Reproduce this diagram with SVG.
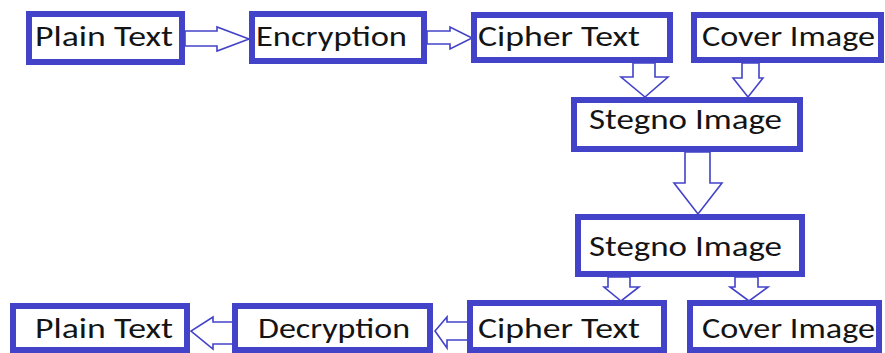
<svg xmlns="http://www.w3.org/2000/svg" width="885" height="353" viewBox="0 0 885 353">
  <style>
    .box { fill: #ffffff; stroke: #4343c9; stroke-width: 6; }
    .arrow { fill: #ffffff; stroke: #4343c9; stroke-width: 1.6; stroke-linejoin: miter; }
    .label { font-family: Carlito, "Open Sans", Lato, sans-serif; font-size: 28px; fill: #141414; }
  </style>
  <rect width="885" height="353" fill="#ffffff"/>

  <!-- block arrows -->
  <g id="connectors">
    <polygon class="arrow" points="185,31 217,31 217,27 249,39 217,51 217,46 185,46"/>
    <polygon class="arrow" points="427,31 450,31 450,27 472,38 450,49 450,44 427,44"/>
    <polygon class="arrow" points="633,63 655,63 655,77 668,77 645,97 621,77 633,77"/>
    <polygon class="arrow" points="742,63 759,63 759,78 763,78 748,97 733,78 742,78"/>
    <polygon class="arrow" points="685,152 710,152 710,183 722,183 698,214 674,183 685,183"/>
    <polygon class="arrow" points="608,277 630,277 630,287 639,287 621,301 604,287 608,287"/>
    <polygon class="arrow" points="735,277 758,277 758,287 768,287 749,301 730,287 735,287"/>
    <polygon class="arrow" points="233,322 213,322 213,317 191,331 213,349 213,344 233,344"/>
    <polygon class="arrow" points="472,322 447,322 447,317 435,331 447,348 447,340 472,340"/>
  </g>

  <g id="plain-text-in">
    <rect class="box" x="29" y="14" width="153" height="48"/>
    <text class="label" x="35" y="46" textLength="138" lengthAdjust="spacingAndGlyphs">Plain Text</text>
  </g>
  <g id="encryption">
    <rect class="box" x="252" y="14" width="172" height="47"/>
    <text class="label" x="256" y="46" textLength="151" lengthAdjust="spacingAndGlyphs">Encryption</text>
  </g>
  <g id="cipher-text-in">
    <rect class="box" x="474" y="15" width="196" height="45"/>
    <text class="label" x="478" y="46" textLength="162" lengthAdjust="spacingAndGlyphs">Cipher Text</text>
  </g>
  <g id="cover-image-in">
    <rect class="box" x="694" y="15" width="187" height="45"/>
    <text class="label" x="702" y="46" textLength="173" lengthAdjust="spacingAndGlyphs">Cover Image</text>
  </g>
  <g id="stegno-image-out">
    <rect class="box" x="574" y="100" width="226" height="49"/>
    <text class="label" x="589" y="129" textLength="193" lengthAdjust="spacingAndGlyphs">Stegno Image</text>
  </g>
  <g id="stegno-image-in">
    <rect class="box" x="578" y="217" width="224" height="57"/>
    <text class="label" x="589" y="256" textLength="193" lengthAdjust="spacingAndGlyphs">Stegno Image</text>
  </g>
  <g id="plain-text-out">
    <rect class="box" x="13" y="306" width="174" height="44"/>
    <text class="label" x="35" y="338" textLength="138" lengthAdjust="spacingAndGlyphs">Plain Text</text>
  </g>
  <g id="decryption">
    <rect class="box" x="235" y="306" width="195" height="44"/>
    <text class="label" x="258" y="338" textLength="152" lengthAdjust="spacingAndGlyphs">Decryption</text>
  </g>
  <g id="cipher-text-out">
    <rect class="box" x="470" y="303" width="194" height="47"/>
    <text class="label" x="478" y="338" textLength="162" lengthAdjust="spacingAndGlyphs">Cipher Text</text>
  </g>
  <g id="cover-image-out">
    <rect class="box" x="690" y="303" width="189" height="47"/>
    <text class="label" x="702" y="338" textLength="173" lengthAdjust="spacingAndGlyphs">Cover Image</text>
  </g>
</svg>
